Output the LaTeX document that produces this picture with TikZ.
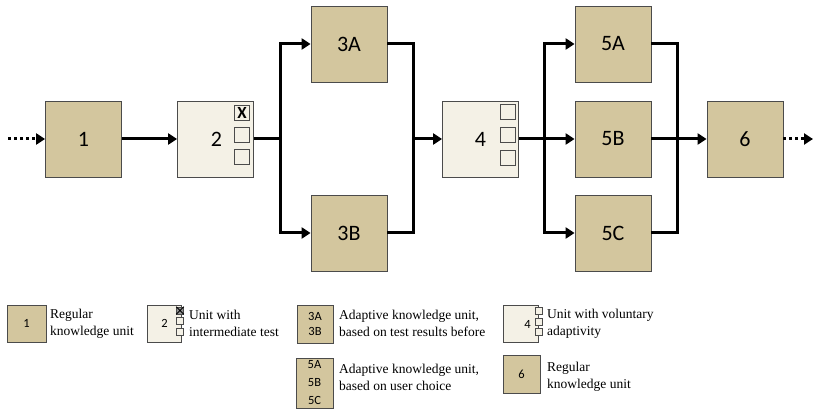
\documentclass[tikz,border=0pt]{standalone}
\usepackage{fontspec}
\setmainfont{Liberation Serif}
\newfontfamily\serfont{Liberation Serif}
\newfontfamily\calfont{Carlito}
\usetikzlibrary{arrows.meta,calc}
\definecolor{tanfill}{RGB}{211,198,158}
\definecolor{creamfill}{RGB}{244,241,230}
\definecolor{edgegray}{RGB}{75,75,75}
\tikzset{
  unit/.style={draw=edgegray, line width=0.8pt, fill=tanfill, minimum width=76pt, minimum height=76pt, inner sep=0pt, font=\calfont\fontsize{22}{26}\selectfont},
  testunit/.style={unit, fill=creamfill},
  cbox/.style={draw=edgegray, line width=0.8pt, fill=creamfill, minimum size=15pt, inner sep=0pt, font=\calfont\bfseries\fontsize{17}{17}\selectfont},
  lbox/.style={draw=edgegray, line width=0.8pt, fill=tanfill, inner sep=0pt, align=center, font=\calfont\fontsize{12.5}{15}\selectfont},
  lcbox/.style={draw=edgegray, line width=0.7pt, fill=creamfill, minimum size=7pt, inner sep=0pt},
  ltext/.style={anchor=west, inner sep=0pt, align=left, font=\serfont\fontsize{13.5}{17}\selectfont},
  tip/.style={-{Triangle[length=9pt,width=11pt]}},
  flow/.style={line width=3pt, tip},
  link/.style={line width=3pt},
  dots/.style={line width=3pt, dash pattern=on 3pt off 3pt, tip},
}
\begin{document}
\begin{tikzpicture}[x=1pt,y=-1pt]
\useasboundingbox (0,0) rectangle (815,409);
% main units
\node[unit] (u1) at (83.5,139) {1};
\node[testunit] (u2) at (215.5,139) {\hspace*{2pt}2};
\node[unit] (u3a) at (349,44) {3A};
\node[unit] (u3b) at (349,233) {3B};
\node[testunit] (u4) at (480.5,139) {4};
\node[unit] (u5a) at (613,44) {5A};
\node[unit] (u5b) at (613,139) {5B};
\node[unit] (u5c) at (613,233) {5C};
\node[unit] (u6) at (745,139) {6};
% check boxes
\node[cbox] (c21) at (242,113) {X};
\node[cbox] (c22) at (242,135) {};
\node[cbox] (c23) at (242,157) {};
\node[cbox] (c41) at (507.5,112) {};
\node[cbox] (c42) at (507.5,134.5) {};
\node[cbox] (c43) at (507.5,157.5) {};
% junctions
\coordinate (in0) at (8,139);
\coordinate (out0) at (813,139);
\coordinate (j1) at (280,139);
\coordinate (j1t) at (280,44);
\coordinate (j1b) at (280,233);
\coordinate (j2) at (413,139);
\coordinate (j2t) at (413,44);
\coordinate (j2b) at (413,233);
\coordinate (j3) at (544,139);
\coordinate (j3t) at (544,44);
\coordinate (j3b) at (544,233);
\coordinate (j4) at (677,139);
\coordinate (j4t) at (677,44);
\coordinate (j4b) at (677,233);
% connectors
\draw[dots] (in0) -- (u1.west);
\draw[flow] (u1.east) -- (u2.west);
\draw[link] (u2.east) -- (j1);
\draw[link, line cap=rect] (j1t) -- (j1b);
\draw[flow] (j1t) -- (u3a.west);
\draw[flow] (j1b) -- (u3b.west);
\draw[link, line join=miter] (u3a.east) -- (j2t) -- (j2b) -- (u3b.east);
\draw[flow] (j2) -- (u4.west);
\draw[link] (u4.east) -- (j3);
\draw[link, line cap=rect] (j3t) -- (j3b);
\draw[flow] (j3t) -- (u5a.west);
\draw[flow] (j3) -- (u5b.west);
\draw[flow] (j3b) -- (u5c.west);
\draw[link, line join=miter] (u5a.east) -- (j4t) -- (j4b) -- (u5c.east);
\draw[link] (u5b.east) -- (j4);
\draw[flow] (j4) -- (u6.west);
\draw[dots] (u6.east) -- (out0);
% legend
\node[lbox, minimum width=39pt, minimum height=37pt] (l1) at (26.5,323.5) {1};
\node[ltext] (t1) at (50,323.5) {Regular\\knowledge unit};
\node[lbox, fill=creamfill, minimum width=34pt, minimum height=37pt] (l2) at (164,323.5) {\hspace*{1pt}2};
\node[lcbox, fill=edgegray!60] (lc21) at (180,310.5) {};
\draw[line width=0.9pt] (lc21.north west) -- (lc21.south east) (lc21.north east) -- (lc21.south west);
\node[lcbox] (lc22) at (180,321) {};
\node[lcbox] (lc23) at (180,331.5) {};
\node[ltext] (t2) at (189,323.5) {Unit with\\intermediate test};
\node[lbox, minimum width=36pt, minimum height=38pt] (l3) at (315,324) {3A\\3B};
\node[ltext] (t3) at (339,323.5) {Adaptive knowledge unit,\\based on test results before};
\node[lbox, fill=creamfill, minimum width=35pt, minimum height=37pt] (l4) at (520.5,324) {\hspace*{14pt}4};
\node[lcbox] (lc41) at (539,311) {};
\node[lcbox] (lc42) at (539,321.5) {};
\node[lcbox] (lc43) at (539,332) {};
\node[ltext] (t4) at (547,323.5) {Unit with voluntary\\adaptivity};
\node[lbox, minimum width=37pt, minimum height=50pt, font=\calfont\fontsize{12.5}{18}\selectfont] (l5) at (314.5,383) {5A\\5B\\5C};
\node[ltext] (t5) at (339,377) {Adaptive knowledge unit,\\based on user choice};
\node[lbox, minimum width=37pt, minimum height=38pt] (l6) at (521.5,374) {6};
\node[ltext] (t6) at (547,377) {Regular\\knowledge unit};
\end{tikzpicture}
\end{document}
